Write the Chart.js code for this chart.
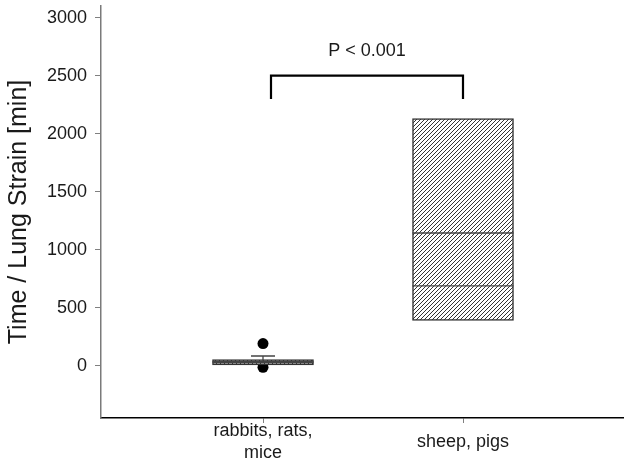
<!DOCTYPE html>
<html>
<head>
<meta charset="utf-8">
<script src="https://cdn.jsdelivr.net/npm/chart.js@4"></script>
<style>
  body { margin: 0; background: #fff; }
</style>
</head>
<body>
<canvas id="boxes" width="624" height="472"></canvas>
<script>
// data
const groups = [['rabbits, rats,', 'mice'], ['sheep, pigs']];
const positions = [1, 2];
const q1 = [9, 393];
const q3 = [55, 2130];
const medians = [30, 689];
const means = [38, 1145];
const whiskerHigh = [86, null];
const outliers = [[193, -12], []];
const yTicks = [0, 500, 1000, 1500, 2000, 2500, 3000];
const bracketX = [1.04, 1.04, 2, 2];
const bracketY = [2300, 2500, 2500, 2300];
const pText = 'P < 0.001';
const pTextY = 2710;

const FONT = 'Liberation Sans, Arial, sans-serif';
const TEXT = '#1a1a1a';

function makeHatch(bg) {
    const c = document.createElement('canvas');
    c.width = 4;
    c.height = 4;
    const g = c.getContext('2d');
    g.fillStyle = bg;
    g.fillRect(0, 0, 4, 4);
    g.strokeStyle = '#333';
    g.lineWidth = 1;
    g.beginPath();
    g.moveTo(-1, 5); g.lineTo(5, -1);
    g.moveTo(-1, 1); g.lineTo(1, -1);
    g.moveTo(3, 5); g.lineTo(5, 3);
    g.stroke();
    return g.createPattern(c, 'repeat');
}

// medians, means, whiskers and the p-value label
const boxExtras = {
    id: 'boxExtras',
    afterDatasetsDraw(chart) {
        const ctx = chart.ctx;
        const y = chart.scales.y;
        const x = chart.scales.x;
        const bars = chart.getDatasetMeta(0).data;
        ctx.save();
        bars.forEach((bar, i) => {
            const left = bar.x - bar.width / 2;
            const right = bar.x + bar.width / 2;
            ctx.strokeStyle = '#444';
            ctx.lineWidth = 1.3;
            ctx.beginPath();
            for (const v of [medians[i], means[i]]) {
                ctx.moveTo(left, y.getPixelForValue(v));
                ctx.lineTo(right, y.getPixelForValue(v));
            }
            if (whiskerHigh[i] !== null) {
                const top = y.getPixelForValue(whiskerHigh[i]);
                ctx.moveTo(bar.x, y.getPixelForValue(medians[i]));
                ctx.lineTo(bar.x, top);
                ctx.moveTo(bar.x - 12, top);
                ctx.lineTo(bar.x + 12, top);
            }
            ctx.stroke();
        });
        ctx.fillStyle = TEXT;
        ctx.font = '18px ' + FONT;
        ctx.textAlign = 'center';
        ctx.textBaseline = 'middle';
        const mid = (bracketX[0] + bracketX[bracketX.length - 1]) / 2;
        ctx.fillText(pText, x.getPixelForValue(mid), y.getPixelForValue(pTextY));
        ctx.restore();
    }
};

new Chart(document.getElementById('boxes'), {
    type: 'bar',
    data: {
        datasets: [{
            type: 'bar',
            data: positions.map((p, i) => ({ x: p, y: [q1[i], q3[i]] })),
            backgroundColor: [makeHatch('#c4c4c4'), makeHatch('#ffffff')],
            borderColor: '#333',
            borderWidth: 1.5,
            borderSkipped: false,
            barThickness: 101,
            order: 1
        }, {
            type: 'line',
            data: outliers.flatMap((vals, i) => vals.map(v => ({ x: positions[i], y: v }))),
            showLine: false,
            pointRadius: 5.5,
            pointBackgroundColor: '#000',
            pointBorderWidth: 0,
            order: 2
        }, {
            type: 'line',
            data: bracketX.map((bx, i) => ({ x: bx, y: bracketY[i] })),
            borderColor: '#000',
            borderWidth: 2.2,
            pointRadius: 0,
            tension: 0,
            order: 0
        }]
    },
    options: {
        responsive: false,
        animation: false,
        devicePixelRatio: 1,
        layout: { autoPadding: false, padding: { top: 6, left: 0, right: 0, bottom: 0 } },
        plugins: {
            legend: { display: false },
            tooltip: { enabled: false }
        },
        scales: {
            x: {
                type: 'linear',
                min: 0.19,
                max: 2.805,
                offset: false,
                afterBuildTicks: s => { s.ticks = positions.map(v => ({ value: v })); },
                afterFit: s => {
                    s.height = 54;
                    s.paddingLeft = 0;
                    s.paddingRight = 0;
                },
                ticks: {
                    callback: (v) => groups[positions.indexOf(v)],
                    font: { family: FONT, size: 18, lineHeight: 1.2 },
                    color: TEXT,
                    padding: 8,
                    crossAlign: 'center',
                    maxRotation: 0,
                    autoSkip: false
                },
                grid: { offset: false, drawOnChartArea: false, tickLength: 5, color: '#808080' },
                border: { color: '#000', width: 1.5 }
            },
            y: {
                min: -448,
                max: 3100,
                afterBuildTicks: s => { s.ticks = yTicks.map(v => ({ value: v })); },
                afterFit: s => {
                    s.width = 101;
                    s.paddingTop = 0;
                    s.paddingBottom = 0;
                },
                ticks: {
                    callback: v => String(v),
                    font: { family: FONT, size: 18 },
                    color: TEXT,
                    padding: 8
                },
                grid: { drawOnChartArea: false, tickLength: 6, color: '#808080' },
                border: { color: '#7a7a7a', width: 1.5 },
                title: {
                    display: true,
                    text: 'Time / Lung Strain [min]',
                    font: { family: FONT, size: 25 },
                    color: TEXT,
                    padding: { top: 4.5, bottom: 4 }
                }
            }
        }
    },
    plugins: [boxExtras]
});
</script>
</body>
</html>
